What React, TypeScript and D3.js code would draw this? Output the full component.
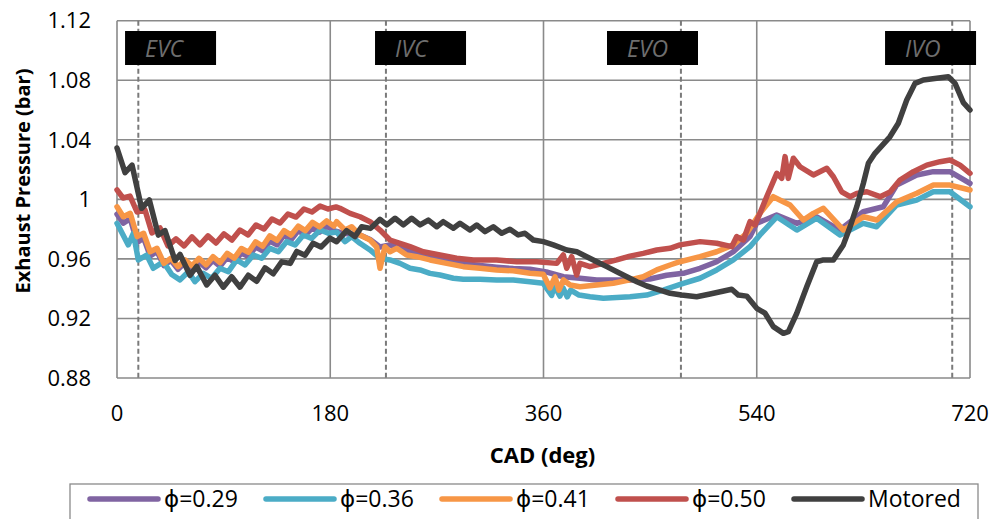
import React from "react";
import * as d3 from "d3";

type P = [number, number];

// CAD (deg), exhaust pressure (bar)
const phi029: P[] = [
  [0,0.990],[5.3,0.984],[11.2,0.987],[17,0.971],[22.5,0.974],[28,0.962],[33.8,0.965],[39.6,0.9555],[45.5,0.959],
  [51.5,0.953],[57.4,0.9575],[63.3,0.9535],[69.2,0.958],[75.1,0.954],[81,0.959],[87,0.955],[93,0.961],[99,0.958],
  [105,0.964],[111,0.9615],[117,0.968],[123,0.9655],[129,0.972],[135,0.9695],[141,0.976],[147,0.973],[153,0.979],
  [159,0.976],[165,0.981],[171,0.978],[177,0.982],[183,0.979],[192.5,0.977],[205.1,0.976],[213.6,0.973],[222,0.968],
  [230.4,0.9694],[247.3,0.965],[264.2,0.9615],[278.3,0.9595],[292.3,0.957],[306.4,0.9555],[320.5,0.9544],[334.5,0.9535],
  [348.6,0.953],[363.7,0.951],[376.8,0.948],[390.8,0.947],[404.9,0.9459],[418.9,0.9459],[433,0.9459],[449.8,0.9465],
  [463.9,0.949],[478,0.9503],[492.1,0.9537],[506.2,0.9581],[520.2,0.9648],[534.3,0.975],[540,0.9839],[556.8,0.9895],
  [573.7,0.9839],[590.6,0.9883],[610.2,0.9794],[629.9,0.9917],[646.8,0.995],[658.1,1.0096],[675,1.0164],[689,1.0186],
  [703.1,1.0186],[720,1.0108]
];

const phi036: P[] = [
  [0,0.9839],[9.5,0.9694],[13.8,0.9772],[18,0.9593],[25.1,0.9626],[30.6,0.9537],[39.1,0.958],[46.2,0.9495],[53.2,0.9459],
  [60.2,0.9514],[65.8,0.9447],[72.8,0.9503],[79.9,0.947],[86.9,0.9537],[94,0.9514],[101,0.9593],[108,0.9559],[115,0.9626],
  [122.1,0.9604],[129.1,0.9671],[136.2,0.9648],[143.2,0.9716],[150.3,0.9694],[157.3,0.9761],[164.3,0.9738],[171.4,0.9794],
  [178.4,0.9772],[185.4,0.978],[192.5,0.9716],[198.1,0.975],[205.1,0.9705],[213.6,0.966],[222,0.9604],[230.4,0.9593],
  [238.9,0.957],[247.3,0.9537],[255.8,0.9526],[264.2,0.9503],[272.6,0.9492],[283.9,0.947],[292.3,0.9463],[306.4,0.9463],
  [320.5,0.9459],[334.5,0.9459],[348.6,0.9447],[359.8,0.9436],[366.9,0.9355],[369,0.942],[373.9,0.935],[376.5,0.9405],
  [380,0.9345],[383,0.939],[390,0.9357],[399.3,0.9346],[410.5,0.9335],[421.8,0.934],[433,0.9346],[447.1,0.9357],
  [461.1,0.9391],[478,0.9436],[492.1,0.947],[506.2,0.9526],[520.2,0.9593],[534.3,0.9682],[542.7,0.9761],[556.9,0.9883],
  [573.8,0.9794],[590.6,0.9873],[610.3,0.9761],[629.9,0.9839],[641.2,0.9816],[658.1,0.9962],[675,0.9995],[689,1.0051],
  [703.1,1.0051],[720,0.995]
];

const phi041: P[] = [
  [0,0.995],[5.3,0.9883],[11.2,0.9906],[17,0.975],[22.5,0.9772],[28,0.9648],[33.8,0.9671],[39.6,0.957],[45.5,0.9604],
  [51.5,0.9548],[57.4,0.9593],[63.3,0.9553],[69.2,0.9604],[75.1,0.956],[81,0.9615],[87,0.9575],[93,0.9637],[99,0.9605],
  [105,0.967],[111,0.9645],[117,0.9715],[123,0.9685],[129,0.9755],[135,0.9725],[141,0.979],[147,0.976],[153,0.982],
  [159,0.979],[165,0.9845],[171,0.9815],[177,0.9855],[183,0.982],[185.4,0.985],[192.5,0.9794],[198.1,0.9816],[205.1,0.976],
  [213.6,0.9727],[219.2,0.968],[222,0.9537],[226.2,0.9682],[230.4,0.9648],[236.1,0.9671],[244.5,0.9626],[253,0.9615],
  [264.2,0.9593],[278.3,0.957],[292.3,0.9548],[306.4,0.9537],[320.5,0.9526],[334.5,0.952],[348.6,0.9503],[359.8,0.9497],
  [365.5,0.9405],[369.7,0.948],[373,0.939],[376.8,0.9459],[382.4,0.9425],[390.8,0.9413],[404.9,0.9425],[418.9,0.9436],
  [433,0.9459],[444.2,0.948],[455.6,0.9526],[466.8,0.9559],[475.2,0.9581],[492.1,0.9615],[506.2,0.9648],[520.2,0.9694],
  [531.5,0.9772],[542.7,0.9906],[553.9,1.0018],[562.4,0.9984],[568.1,0.9962],[579.3,0.9861],[587.8,0.9906],[596.3,0.994],
  [613.2,0.9794],[630.1,0.9883],[641.4,0.9861],[658.2,0.9984],[675.1,1.0041],[689.1,1.0096],[703.1,1.0096],[720,1.0063]
];

const phi050: P[] = [
  [0,1.0063],[5.1,1.0009],[11,1.0022],[16.9,0.9915],[23.6,0.9929],[29.5,0.9775],[36.3,0.9808],[43,0.9687],[49.8,0.9734],
  [56.6,0.9687],[63.3,0.9748],[70,0.9694],[76.8,0.9755],[83.6,0.9707],[90.3,0.9768],[97,0.9727],[103.8,0.9794],
  [110.6,0.9761],[117.3,0.9828],[124.1,0.9801],[130.8,0.9868],[137.6,0.9841],[144.3,0.9902],[151.1,0.9881],[157.8,0.9935],
  [164.6,0.9915],[171.4,0.9955],[178.1,0.9935],[184.9,0.9949],[188.2,0.994],[196.7,0.9906],[205.1,0.9883],[213.6,0.985],
  [222,0.9794],[230.4,0.9727],[238.9,0.9705],[247.3,0.9682],[258.5,0.9648],[272.6,0.9626],[286.7,0.9604],[300.8,0.9593],
  [320.5,0.9593],[337.4,0.9581],[354.3,0.9581],[371.2,0.957],[376.7,0.9626],[379.6,0.9537],[383.8,0.9615],[388,0.9492],
  [390.8,0.957],[399.3,0.9548],[410.5,0.957],[421.8,0.9593],[433,0.9619],[444.2,0.9637],[455.6,0.966],[466.8,0.9671],
  [475.2,0.9694],[492.1,0.9716],[506.2,0.9705],[518.9,0.9682],[523.1,0.975],[528.7,0.9727],[534.3,0.985],[538.5,0.9828],
  [542.7,0.9906],[548.4,1.0018],[556.9,1.0175],[561.1,1.0141],[563.9,1.0287],[566.6,1.0141],[570.9,1.0276],[576.5,1.0219],
  [587.8,1.0164],[599.1,1.0209],[604.7,1.0152],[611.7,1.0051],[618.8,1.0018],[624.4,1.004],[632.9,1.0051],[644.1,1.0018],
  [652.5,1.005],[660.9,1.013],[672.2,1.0186],[683.5,1.023],[694.7,1.0253],[703.1,1.0264],[711.6,1.023],[720,1.0175]
];

const motored: P[] = [
  [0,1.0345],[6.8,1.018],[12.7,1.023],[20.8,0.994],[27.3,0.9996],[34.9,0.976],[40.5,0.979],[49,0.959],[53.2,0.963],
  [61.6,0.949],[67.3,0.955],[75.7,0.9425],[82.7,0.949],[89.7,0.941],[96.8,0.948],[103.8,0.941],[110.8,0.949],[117.9,0.945],
  [124.9,0.954],[131.9,0.95],[139,0.958],[146.2,0.957],[151.7,0.965],[158.7,0.9625],[165.5,0.9705],[172.2,0.968],
  [179.8,0.974],[185.4,0.9715],[193.8,0.979],[200.8,0.975],[206.5,0.9816],[214,0.9805],[222,0.9866],[227.7,0.9828],
  [234.7,0.9873],[241.7,0.9828],[248.7,0.9873],[255.8,0.9828],[262.8,0.9861],[269.9,0.9816],[275.4,0.985],[283.9,0.9806],
  [289.5,0.9839],[297.9,0.9794],[303.6,0.9828],[310.6,0.9783],[317.6,0.9816],[324.7,0.9772],[331.7,0.9799],[338.7,0.9761],
  [344.4,0.9772],[351.4,0.9727],[359.9,0.9716],[368.3,0.9694],[379.7,0.966],[388.1,0.9648],[396.5,0.9615],[405,0.9581],
  [413.4,0.9548],[421.9,0.9514],[430.3,0.948],[438.8,0.9447],[447.2,0.9418],[458.4,0.9391],[466.9,0.9369],[476.5,0.9357],
  [489.3,0.9346],[500.6,0.9364],[518.9,0.9396],[524.5,0.9357],[531.5,0.935],[540,0.9268],[547,0.9235],[554,0.9145],
  [562.5,0.91],[566.7,0.9111],[573.8,0.9235],[582.2,0.9413],[590.6,0.9581],[596.3,0.9593],[604.7,0.9593],[613.1,0.9694],
  [618.8,0.9816],[624.4,0.9951],[630,1.0108],[634.2,1.0242],[639.8,1.0309],[652.4,1.042],[659.5,1.0511],[666.6,1.0667],
  [673.6,1.0779],[680.6,1.0802],[691.9,1.0813],[701.7,1.0824],[707.4,1.0779],[714.4,1.065],[720,1.06]
];

const seriesNames = ["\u03D5=0.29", "\u03D5=0.36", "\u03D5=0.41", "\u03D5=0.50", "Motored"];
const seriesData = [phi029, phi036, phi041, phi050, motored];
const seriesColors = ["#8064A2", "#4BACC6", "#F79646", "#C0504D", "#404040"];

const xTicks = [0, 180, 360, 540, 720];
const yTicks = [0.88, 0.92, 0.96, 1.0, 1.04, 1.08, 1.12];

const eventLabels = ["EVC", "IVC", "EVO", "IVO"];
const eventCad = [18, 227, 476, 705];
const eventBoxCad = [6.8, 217.8, 413.6, 648.3];

const FONT = "'Open Sans', 'DejaVu Sans', sans-serif";

export default function App() {
  const W = 992, H = 519;
  const x = d3.scaleLinear().domain([0, 720]).range([117, 970]);
  const y = d3.scaleLinear().domain([0.88, 1.12]).range([378, 20.7]);
  const line = d3.line<P>().x(d => x(d[0])).y(d => y(d[1]));
  const grid = "#8a8a8a";
  const fmt = (v: number) => String(+v.toFixed(2));

  return (
    <svg width={W} height={H} style={{ position: "absolute", left: 0, top: 0, background: "#fff" }} fontFamily={FONT}>
      <rect x={0} y={0} width={W} height={H} fill="#fff" />
      {yTicks.map((t, i) => (
        <line key={"gy" + i} x1={x(0)} x2={x(720)} y1={y(t)} y2={y(t)} stroke={grid} strokeWidth={1.6} />
      ))}
      {xTicks.map((t, i) => (
        <line key={"gx" + i} x1={x(t)} x2={x(t)} y1={y(0.88)} y2={y(1.12)} stroke={grid} strokeWidth={1.6} />
      ))}
      {eventCad.map((c, i) => (
        <line key={"ev" + i} x1={x(c)} x2={x(c)} y1={y(1.12)} y2={y(0.88)} stroke="#7a7a7a" strokeWidth={2} strokeDasharray="5,3" />
      ))}
      {seriesData.map((d, i) => (
        <path key={"s" + i} d={line(d) || ""} fill="none" stroke={seriesColors[i]} strokeWidth={5.5}
          strokeLinejoin="round" strokeLinecap="round" />
      ))}
      {eventLabels.map((l, i) => (
        <g key={"lb" + i}>
          <rect x={x(eventBoxCad[i])} y={31} width={91} height={34} fill="#000" />
          <text x={x(eventBoxCad[i]) + 20} y={57} fill="#6e6e6e" fontSize={23} fontStyle="italic">{l}</text>
        </g>
      ))}
      {yTicks.map((t, i) => (
        <text key={"ty" + i} x={91} y={y(t)} dy="0.35em" textAnchor="end" fontSize={22} fill="#000">{fmt(t)}</text>
      ))}
      {xTicks.map((t, i) => (
        <text key={"tx" + i} x={x(t)} y={421} textAnchor="middle" fontSize={22} fill="#000">{t}</text>
      ))}
      <text x={542.5} y={463} textAnchor="middle" fontSize={22} fontWeight="bold" fill="#000">CAD (deg)</text>
      <text transform="translate(30,181) rotate(-90)" textAnchor="middle" fontSize={20} fontWeight="bold" fill="#000">
        Exhaust Pressure (bar)
      </text>
      <rect x={70} y={484} width={908} height={50} fill="#fff" stroke="#8a8a8a" strokeWidth={1.3} />
      {seriesNames.map((n, i) => {
        const lx = 90 + i * 176;
        return (
          <g key={"lg" + i}>
            <line x1={lx} x2={lx + 68} y1={499} y2={499} stroke={seriesColors[i]} strokeWidth={5.5} strokeLinecap="round" />
            <text x={lx + 74} y={499} dy="0.35em" fontSize={23} fill="#000">{n}</text>
          </g>
        );
      })}
    </svg>
  );
}
